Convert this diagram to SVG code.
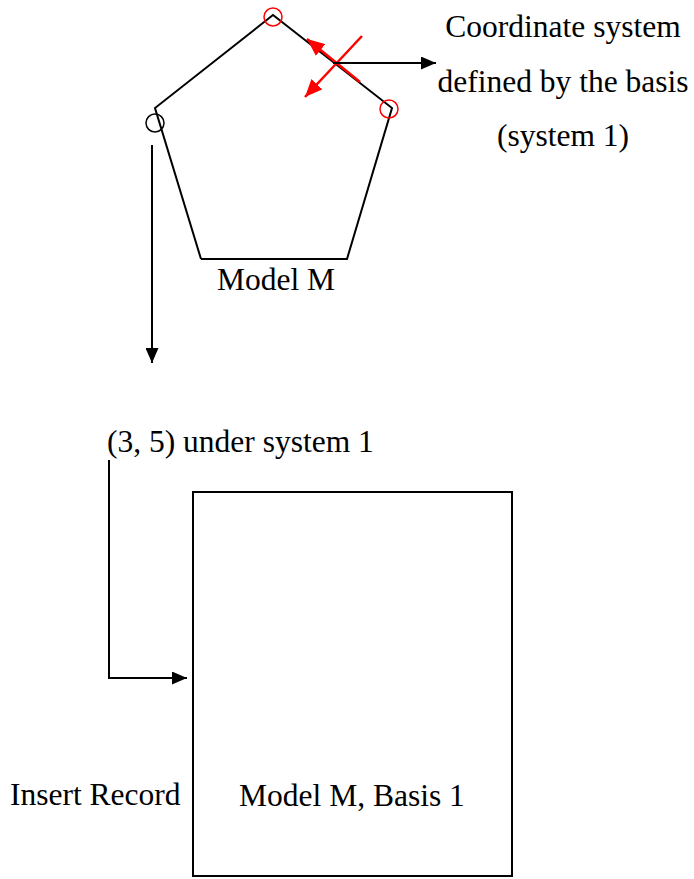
<svg xmlns="http://www.w3.org/2000/svg" width="694" height="879" viewBox="0 0 694 879">
<style>
text{font-family:"Liberation Serif","Times New Roman",serif;font-size:31.5px;fill:#000}
.ln{fill:none;stroke:#000;stroke-width:2}
.rd{fill:none;stroke:#f00;stroke-width:2.5}
.rc{fill:none;stroke:#f00;stroke-width:1.5}
</style>
<defs>
<marker id="ab" viewBox="0 0 10 10" refX="10" refY="5" markerWidth="7.5" markerHeight="6.5" markerUnits="strokeWidth" orient="auto" preserveAspectRatio="none"><path d="M0,0L10,5L0,10z" fill="#000"/></marker>
<marker id="ar" viewBox="0 0 10 10" refX="10" refY="5" markerWidth="7" markerHeight="6" markerUnits="strokeWidth" orient="auto" preserveAspectRatio="none"><path d="M0,0L10,5L0,10z" fill="#f00"/></marker>
</defs>
<rect width="694" height="879" fill="#fff"/>
<g id="model-m">
<polyline class="ln" points="201,259 155,108 273,15 392,108 347,259 201,259" stroke-width="1.8"/>
<circle cx="273" cy="17" r="9" class="rc"/>
<circle cx="389" cy="109" r="9" class="rc"/>
<circle cx="155" cy="123" r="9" fill="none" stroke="#000" stroke-width="1.5"/>
<text x="276" y="290" text-anchor="middle">Model M</text>
</g>
<g id="basis-arrows">
<line class="rd" x1="360" y1="82" x2="307" y2="39" marker-end="url(#ar)"/>
<line class="rd" x1="362" y1="36" x2="305" y2="97" marker-end="url(#ar)"/>
</g>
<g id="coord-label">
<text x="563" y="37" text-anchor="middle">Coordinate system</text>
<text x="563" y="92" text-anchor="middle">defined by the basis</text>
<text x="563" y="146" text-anchor="middle">(system 1)</text>
</g>
<g id="point-label">
<text x="107" y="452">(3, 5) under system 1</text>
</g>
<g id="insert-label">
<text x="10" y="805">Insert Record</text>
</g>
<g id="model-basis">
<rect x="193" y="492" width="319" height="384" class="ln"/>
<text x="352" y="806" text-anchor="middle">Model M, Basis 1</text>
</g>
<g id="connectors">
<line class="ln" x1="333" y1="63" x2="436" y2="63" marker-end="url(#ab)"/>
<line class="ln" x1="152" y1="145" x2="152" y2="363" marker-end="url(#ab)"/>
<polyline class="ln" points="109,460 109,678 187,678" marker-end="url(#ab)"/>
</g>
</svg>
